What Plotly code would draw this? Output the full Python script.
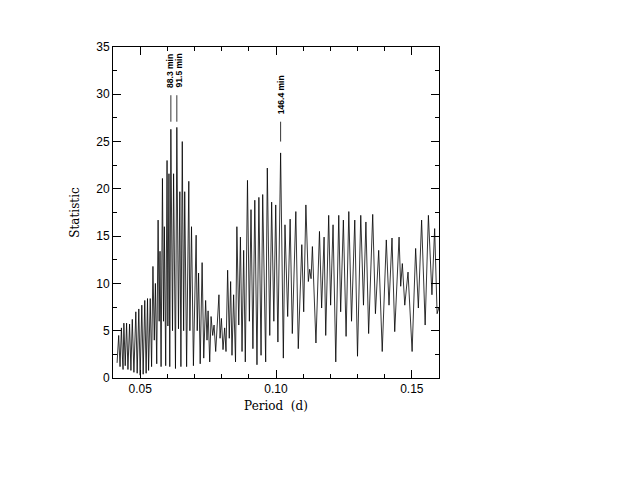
import plotly.graph_objects as go

# Period (d) and statistic values (local extrema)
period = [
    0.0415, 0.0421, 0.0426, 0.0431, 0.0435, 0.0437, 0.0440, 0.0445, 0.0450, 0.0455,
    0.0461, 0.0466, 0.0471, 0.0477, 0.0484, 0.0489, 0.0495, 0.0500, 0.0506, 0.0511,
    0.0517, 0.0522, 0.0527, 0.0531, 0.0537, 0.0542, 0.0547, 0.0552, 0.0556, 0.0561,
    0.0566, 0.0570, 0.0573, 0.0577, 0.0582, 0.0586, 0.0589, 0.0594, 0.0599, 0.0602,
    0.0606, 0.0609, 0.0613, 0.0619, 0.0623, 0.0630, 0.0635, 0.0641, 0.0646, 0.0650,
    0.0655, 0.0660, 0.0664, 0.0671, 0.0679, 0.0683, 0.0689, 0.0696, 0.0706, 0.0710,
    0.0715, 0.0721, 0.0728, 0.0734, 0.0741, 0.0746, 0.0750, 0.0756, 0.0761, 0.0767,
    0.0772, 0.0778, 0.0790, 0.0794, 0.0799, 0.0805, 0.0811, 0.0816, 0.0822, 0.0828,
    0.0833, 0.0838, 0.0844, 0.0851, 0.0856, 0.0863, 0.0869, 0.0875, 0.0881, 0.0887,
    0.0895, 0.0902, 0.0908, 0.0915, 0.0922, 0.0930, 0.0937, 0.0945, 0.0951, 0.0962,
    0.0968, 0.0977, 0.0984, 0.0992, 0.0999, 0.1007, 0.1017, 0.1027, 0.1033, 0.1043,
    0.1052, 0.1060, 0.1073, 0.1082, 0.1095, 0.1102, 0.1110, 0.1119, 0.1124, 0.1129,
    0.1134, 0.1147, 0.1160, 0.1168, 0.1177, 0.1183, 0.1194, 0.1201, 0.1210, 0.1220,
    0.1231, 0.1238, 0.1248, 0.1258, 0.1268, 0.1278, 0.1290, 0.1300, 0.1312, 0.1322,
    0.1331, 0.1341, 0.1356, 0.1366, 0.1378, 0.1391, 0.1406, 0.1416, 0.1427, 0.1437,
    0.1453, 0.1459, 0.1465, 0.1474, 0.1486, 0.1501, 0.1514, 0.1524, 0.1536, 0.1549,
    0.1561, 0.1574, 0.1584, 0.1593, 0.1600,
]
statistic = [
    1.6, 4.5, 1.2, 5.3, 2.0, 0.9, 5.8, 1.3, 5.8, 0.9,
    5.7, 0.8, 6.2, 0.6, 7.0, 0.5, 7.3, 0.3, 7.7, 0.4,
    8.2, 0.5, 8.4, 0.8, 8.4, 1.2, 11.8, 4.0, 10.0, 1.5,
    16.7, 6.0, 13.4, 1.2, 21.1, 6.0, 16.0, 1.3, 23.0, 5.5,
    21.6, 1.2, 26.3, 5.0, 21.6, 1.0, 26.5, 5.2, 19.7, 1.2,
    25.0, 5.0, 19.7, 1.2, 20.8, 5.0, 16.0, 1.3, 15.1, 5.0,
    11.1, 1.5, 12.2, 2.1, 8.2, 4.0, 7.1, 1.7, 6.5, 4.5,
    5.6, 2.8, 8.8, 4.2, 6.3, 3.0, 5.3, 2.8, 11.4, 4.2,
    10.2, 2.4, 8.8, 1.7, 16.0, 5.6, 14.9, 2.8, 13.5, 1.7,
    20.9, 6.0, 17.8, 3.1, 18.8, 1.4, 19.1, 2.4, 19.4, 1.7,
    22.2, 4.5, 18.6, 6.0, 18.3, 3.8, 23.8, 2.1, 16.2, 6.5,
    16.8, 4.7, 17.6, 3.1, 14.1, 7.0, 18.3, 10.2, 11.5, 10.5,
    13.9, 3.7, 15.5, 7.4, 14.9, 4.5, 17.2, 7.7, 16.2, 1.7,
    17.2, 7.0, 16.7, 4.4, 17.6, 6.0, 16.7, 2.3, 17.2, 7.7,
    16.5, 4.7, 17.3, 6.8, 13.5, 2.8, 14.6, 7.7, 14.8, 4.9,
    14.9, 9.7, 12.1, 7.7, 11.2, 2.8, 13.7, 7.4, 16.7, 5.6,
    17.2, 8.8, 15.8, 6.8, 7.5,
]

# Marked periods
mark_period = [0.0613, 0.0635, 0.1017]
mark_label = ["88.3 min", "91.5 min", "146.4 min"]
mark_line_lo = [27.1, 27.1, 25.0]
mark_line_hi = [29.9, 29.9, 27.1]
mark_text_y = [30.5, 30.5, 27.7]
mark_text_shift = [-1.5, 2, 0]

x_ticks = [0.05, 0.10, 0.15]
y_ticks = [0, 5, 10, 15, 20, 25, 30, 35]

fig = go.Figure()
fig.add_trace(go.Scatter(x=period, y=statistic, mode="lines",
                         line=dict(color="black", width=0.8),
                         showlegend=False, hoverinfo="skip"))

for p, lab, lo, hi, ty, sh in zip(mark_period, mark_label, mark_line_lo, mark_line_hi,
                                  mark_text_y, mark_text_shift):
    fig.add_shape(type="line", x0=p, x1=p, y0=lo, y1=hi, xref="x", yref="y",
                  line=dict(color="black", width=0.8))
    fig.add_annotation(x=p, y=ty, text="<b>" + lab + "</b>", textangle=-90,
                       showarrow=False, xanchor="center", yanchor="bottom", xshift=sh,
                       font=dict(family="Liberation Sans", size=8.5, color="black"))

axis_common = dict(showgrid=False, zeroline=False, showline=True, linecolor="black",
                   linewidth=1, mirror="allticks", ticks="inside", ticklen=8,
                   tickcolor="black", tickwidth=1,
                   tickfont=dict(family="Liberation Sans", size=12, color="black"))

fig.update_xaxes(range=[0.04, 0.16], tickvals=x_ticks, ticktext=["0.05", "0.10", "0.15"],
                 minor=dict(ticks="inside", dtick=0.01, tick0=0.0, ticklen=4,
                            tickcolor="black", tickwidth=1),
                 title=dict(text="Period  (d)", font=dict(family="DejaVu Serif", size=12, color="black"),
                            standoff=6),
                 **axis_common)
fig.update_yaxes(range=[0, 35], tickvals=y_ticks,
                 minor=dict(ticks="inside", dtick=2.5, tick0=0, ticklen=4,
                            tickcolor="black", tickwidth=1),
                 title=dict(text="Statistic", font=dict(family="DejaVu Serif", size=12, color="black"),
                            standoff=14),
                 **axis_common)

fig.update_layout(width=613, height=472, plot_bgcolor="white", paper_bgcolor="white",
                  margin=dict(l=105, r=182, t=39, b=102), showlegend=False)

fig.write_html("out.html")
